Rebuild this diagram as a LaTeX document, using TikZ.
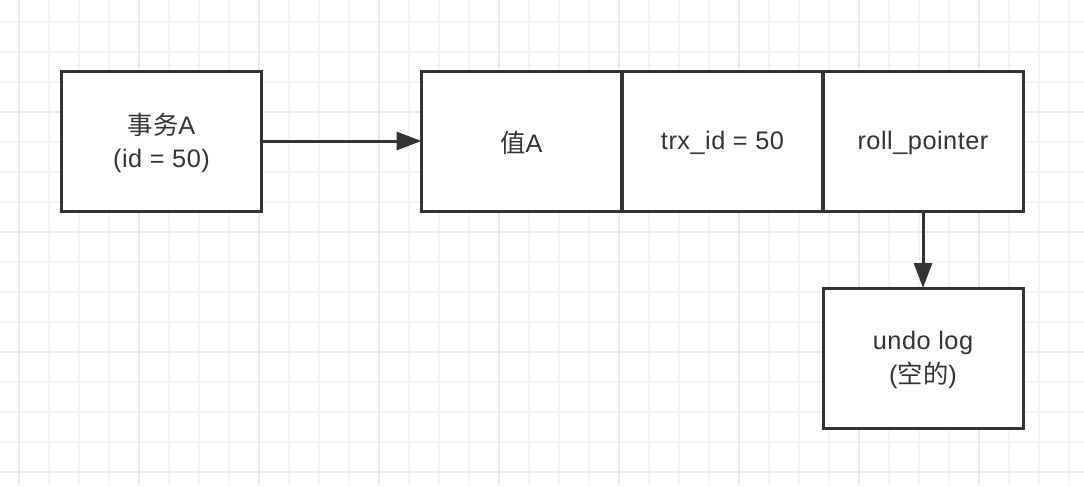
\documentclass[tikz,border=0pt]{standalone}
\usepackage{fontspec}
\setmainfont{Liberation Sans}[LetterSpace=2]
\newfontfamily\cjk{Noto Sans CJK SC}
\usetikzlibrary{arrows.meta}
\definecolor{gridminor}{HTML}{F3F3F3}
\definecolor{gridmajor}{HTML}{EAEAEA}
\definecolor{ink}{HTML}{333333}
\begin{document}
\begin{tikzpicture}[x=0.75pt,y=-0.75pt,
  box/.style={draw=ink,line width=3pt*0.75,fill=white,minimum width=200*0.75pt,minimum height=140*0.75pt,inner sep=0pt,outer sep=0pt,align=center,font=\fontsize{19}{25}\selectfont,text=ink},
  lbl/.style={align=center,font=\fontsize{19}{25}\selectfont,text=ink,inner sep=0pt},
  conn/.style={draw=ink,line width=3pt*0.75,-{Triangle[length=25pt*0.75,width=18pt*0.75]}}]
\useasboundingbox (0,0) rectangle (1084,486);
\fill[white] (0,0) rectangle (1084,486);
\foreach \x in {19,49,...,1084} \draw[gridminor,line width=1.2pt*0.75] (\x,0) -- (\x,486);
\foreach \y in {22,52,...,486} \draw[gridminor,line width=1.2pt*0.75] (0,\y) -- (1084,\y);
\foreach \x in {19,139,...,1084} \draw[gridmajor,line width=1.2pt*0.75] (\x,0) -- (\x,486);
\foreach \y in {112,232,...,486} \draw[gridmajor,line width=1.2pt*0.75] (0,\y) -- (1084,\y);
\node[box] (txa) at (161.5,141) {};
\node[box] (val) at (521.5,141) {};
\node[box] (trx) at (722.5,141) {};
\node[box] (roll) at (923,141) {};
\node[box] (undo) at (923,358) {};
\node[lbl] (txat) at (161.5,143) {{\cjk 事务}A\\(id = 50)};
\node[lbl] (valt) at (521.5,143) {{\cjk 值}A};
\node[lbl] (trxt) at (722.5,143) {trx\_id = 50};
\node[lbl] (rollt) at (923,143) {roll\_pointer};
\node[lbl] (undot) at (923,360) {undo log\\({\cjk 空的})};
\draw[conn] (txa.east) -- (val.west);
\draw[conn] (roll.south) -- (undo.north);
\end{tikzpicture}
\end{document}
